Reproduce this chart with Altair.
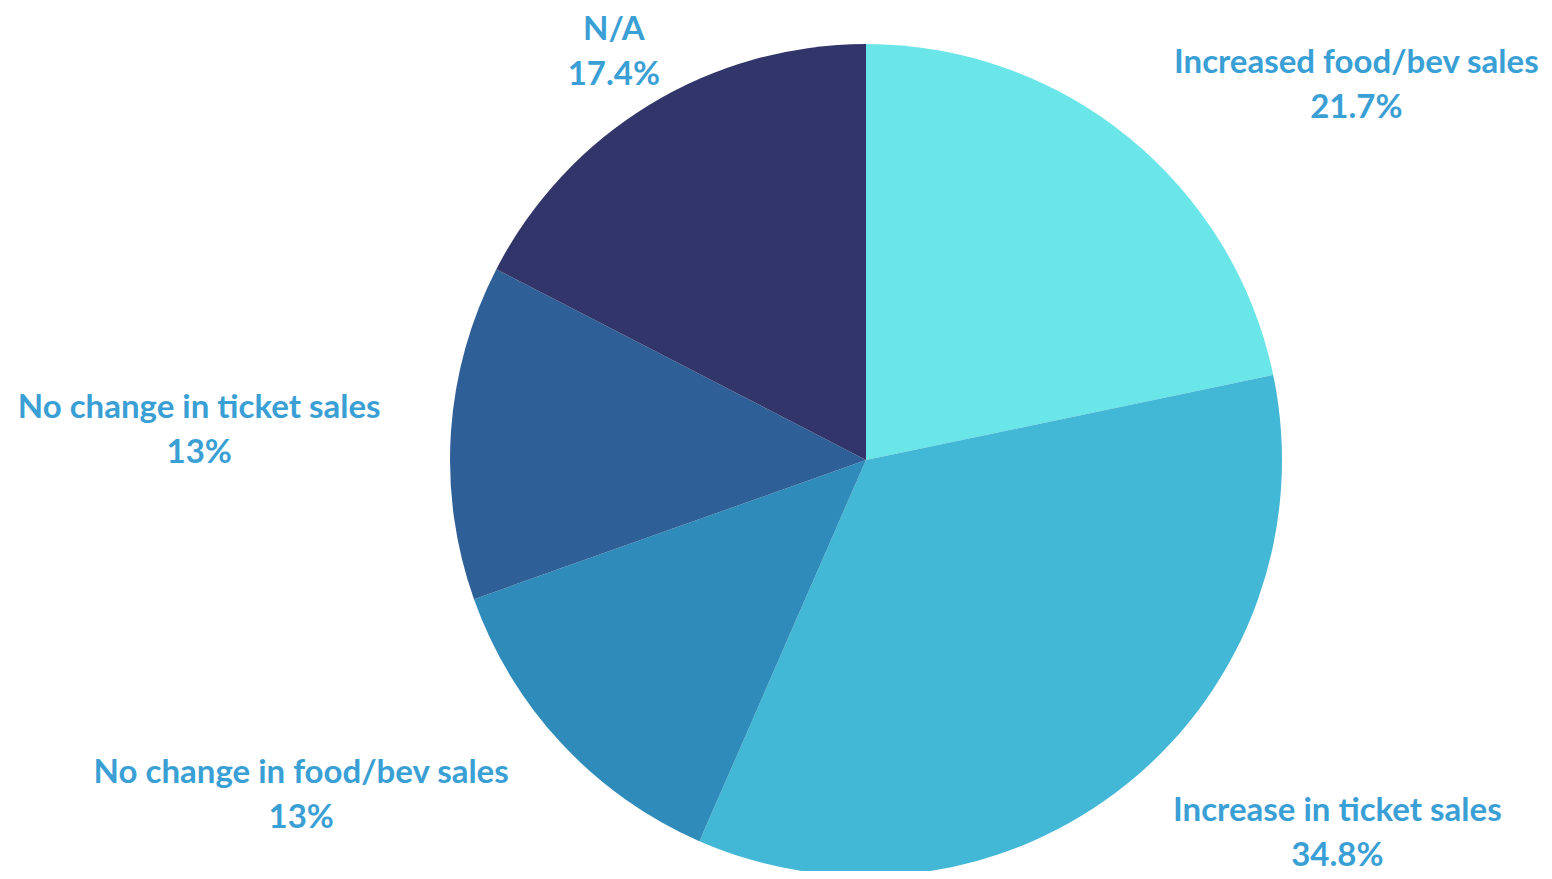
import altair as alt
import pandas as pd

categories = ["Increased food/bev sales", "Increase in ticket sales", "No change in food/bev sales",
              "No change in ticket sales", "N/A"]
values = [21.7, 34.8, 13, 13, 17.4]
colors = ["#6ae5e8", "#43b7d6", "#2e8bba", "#2e5f97", "#313569"]

df = pd.DataFrame({"category": categories, "value": values, "order": list(range(len(categories)))})

CX, CY = 858, 452
R = 416
LABEL_R = 500

base = alt.Chart(df).encode(
    theta=alt.Theta("value:Q", stack=True),
    order=alt.Order("order:Q"),
)

pie = base.mark_arc(outerRadius=R, stroke=None).encode(
    x=alt.value(CX), y=alt.value(CY),
    color=alt.Color("category:N", scale=alt.Scale(domain=categories, range=colors), legend=None),
)

# per-label offsets from mid-angle anchor
offsets = {
    categories[0]: (175, -9),
    categories[1]: (156, -37),
    categories[2]: (-199, -28),
    categories[3]: (-168, -18),
    categories[4]: (8, -3),
}

layers = [pie]
for cat, (dx, dy) in offsets.items():
    t = base.transform_calculate(
        txt="datum.category + '\\n' + datum.value + '%'"
    ).mark_text(
        radius=LABEL_R, dx=dx, dy=dy, align="center", baseline="middle",
        font="Lato", fontWeight="bold", fontSize=33, lineHeight=45, lineBreak="\n",
        color="#3a9fd4",
    ).encode(
        x=alt.value(CX), y=alt.value(CY),
        text="txt:N",
        opacity=alt.condition(alt.datum.category == cat, alt.value(1), alt.value(0)),
    )
    layers.append(t)

chart = alt.layer(*layers).properties(
    width=1536, height=863, padding=0, autosize=alt.AutoSizeParams(type="none")
).configure_view(stroke=None)

chart.save("out.html", embed_options={"renderer": "svg", "actions": False})
